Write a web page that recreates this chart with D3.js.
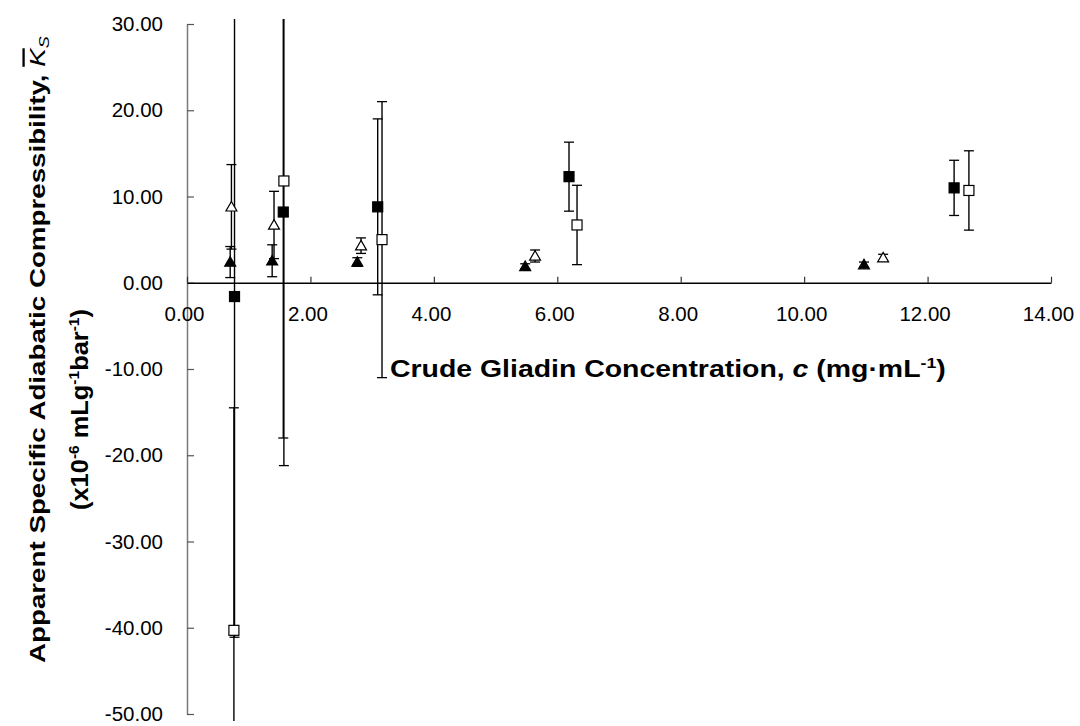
<!DOCTYPE html>
<html>
<head>
<meta charset="utf-8">
<script src="https://cdn.jsdelivr.net/npm/d3@7"></script>
<style>
  body { margin: 0; background: #fff; }
  text { font-family: "Liberation Sans", Arial, sans-serif; }
</style>
</head>
<body>
<div id="chart"></div>
<script>
// series: x position, value, error (+/-)
var filledTriX = [0.70, 1.38, 2.76, 5.48, 10.97]
var filledTriY = [2.4, 2.55, 2.4, 1.9, 2.1]
var filledTriErr = [1.8, 1.85, 0.5, 0.3, 0.3]

var openTriX = [0.72, 1.41, 2.82, 5.64, 11.28]
var openTriY = [8.8, 6.7, 4.3, 3.1, 2.9]
var openTriErr = [4.9, 3.9, 0.9, 0.7, 0.4]

var filledSqX = [0.77, 1.56, 3.09, 6.19, 12.43]
var filledSqY = [-1.6, 8.2, 8.8, 12.3, 11.0]
var filledSqErr = [39.5, 26.2, 10.2, 4.0, 3.2]

var openSqX = [0.76, 1.57, 3.16, 6.32, 12.67]
var openSqY = [-40.3, 11.8, 5.0, 6.7, 10.7]
var openSqErr = [25.8, 33.0, 16.0, 4.6, 4.6]

var xTicks = [0, 2, 4, 6, 8, 10, 12, 14]
var yTicks = [-50, -40, -30, -20, -10, 0, 10, 20, 30]

var width = 1080
var height = 726

var svg = d3.select('#chart').append('svg')
    .attr('width', width)
    .attr('height', height)

var x = d3.scaleLinear().domain([0, 14]).range([187, 1051])
var y = d3.scaleLinear().domain([-50, 30]).range([714, 24])

// plot area clip (error bars run off the top and bottom)
svg.append('clipPath').attr('id', 'plotClip')
    .append('rect')
    .attr('x', 0).attr('y', 19)
    .attr('width', width).attr('height', 702)

function zip(xs, ys, es) {
    return xs.map(function (d, i) { return { x: d, y: ys[i], e: es[i] } })
}

var series = [
    { name: 'filledTri', shape: 'tri', fill: '#000', data: zip(filledTriX, filledTriY, filledTriErr) },
    { name: 'openTri', shape: 'tri', fill: '#fff', data: zip(openTriX, openTriY, openTriErr) },
    { name: 'filledSq', shape: 'sq', fill: '#000', data: zip(filledSqX, filledSqY, filledSqErr) },
    { name: 'openSq', shape: 'sq', fill: '#fff', data: zip(openSqX, openSqY, openSqErr) }
]

// y axis
var yAxis = d3.axisLeft(y)
    .tickValues(yTicks)
    .tickFormat(function (d) { return d.toFixed(2) })
    .tickSizeInner(-7)
    .tickSizeOuter(0)
    .tickPadding(24)

var yG = svg.append('g')
    .attr('transform', 'translate(' + x(0) + ',0)')
    .call(yAxis)
yG.select('.domain').attr('stroke', '#7a7a7a').attr('stroke-width', 1.5)
yG.selectAll('.tick line').attr('stroke', '#555').attr('stroke-width', 1.2)
yG.selectAll('.tick text').attr('font-size', 20.5).attr('fill', '#000')

// x axis at y = 0
var xAxis = d3.axisBottom(x)
    .tickValues(xTicks)
    .tickFormat(function (d) { return d.toFixed(2) })
    .tickSizeInner(-6)
    .tickSizeOuter(0)
    .tickPadding(24)

var xG = svg.append('g')
    .attr('transform', 'translate(0,' + y(0) + ')')
    .call(xAxis)
xG.select('.domain').attr('stroke', '#000').attr('stroke-width', 1.5)
xG.selectAll('.tick line').attr('stroke', '#333').attr('stroke-width', 1.2)
xG.selectAll('.tick text').attr('font-size', 20.5).attr('fill', '#000').attr('dx', -3)

// error bars
var barG = svg.append('g').attr('clip-path', 'url(#plotClip)')
series.forEach(function (s) {
    var g = barG.append('g').attr('class', 'err-' + s.name)
    g.selectAll('line.stem')
        .data(s.data)
        .enter().append('line')
        .attr('class', 'stem')
        .attr('x1', function (d) { return x(d.x) })
        .attr('x2', function (d) { return x(d.x) })
        .attr('y1', function (d) { return y(d.y + d.e) })
        .attr('y2', function (d) { return y(d.y - d.e) })
        .attr('stroke', '#000')
        .attr('stroke-width', 1.4)
    var caps = []
    s.data.forEach(function (d) { caps.push({ x: d.x, v: d.y + d.e }); caps.push({ x: d.x, v: d.y - d.e }) })
    g.selectAll('line.cap')
        .data(caps)
        .enter().append('line')
        .attr('class', 'cap')
        .attr('x1', function (d) { return x(d.x) - 5 })
        .attr('x2', function (d) { return x(d.x) + 5 })
        .attr('y1', function (d) { return y(d.v) })
        .attr('y2', function (d) { return y(d.v) })
        .attr('stroke', '#000')
        .attr('stroke-width', 1.3)
})

// markers
var triangle = d3.symbol().type(d3.symbolTriangle).size(52)
series.forEach(function (s) {
    var g = svg.append('g').attr('class', 'pts-' + s.name)
    if (s.shape === 'sq') {
        g.selectAll('rect')
            .data(s.data)
            .enter().append('rect')
            .attr('x', function (d) { return x(d.x) - 5 })
            .attr('y', function (d) { return y(d.y) - 5 })
            .attr('width', 10)
            .attr('height', 10)
            .attr('fill', s.fill)
            .attr('stroke', '#000')
            .attr('stroke-width', 1.2)
    } else {
        g.selectAll('path')
            .data(s.data)
            .enter().append('path')
            .attr('d', triangle)
            .attr('transform', function (d) { return 'translate(' + x(d.x) + ',' + (y(d.y) + 1) + ')' })
            .attr('fill', s.fill)
            .attr('stroke', '#000')
            .attr('stroke-width', 1.2)
    }
})

// the original titles are set a bit wider than Arial Bold,
// so widen the glyphs along the text direction to the measured length
function stretch(t, tx, ty, angle, len) {
    var natural = t.node().getComputedTextLength()
    t.attr('transform', 'translate(' + tx + ',' + ty + ') rotate(' + angle + ') scale(' + (len / natural) + ',1)')
}

// x axis title
var xt = svg.append('text')
    .attr('font-size', 24)
    .attr('font-weight', 'bold')
    .attr('fill', '#000')
xt.append('tspan').text('Crude Gliadin Concentration, ')
xt.append('tspan').attr('font-style', 'italic').text('c')
xt.append('tspan').text(' (mg\u00b7mL')
xt.append('tspan').attr('font-size', 15).attr('dy', -9).text('-1')
xt.append('tspan').attr('dy', 9).text(')')
stretch(xt, 390, 377, 0, 556)

// y axis title, two lines
var yt1 = svg.append('text')
    .attr('font-size', 23)
    .attr('font-weight', 'bold')
    .attr('fill', '#000')
yt1.append('tspan').text('Apparent Specific Adiabatic Compressibility, ')
yt1.append('tspan')
    .attr('font-weight', 'normal')
    .attr('font-style', 'italic')
    .style('text-decoration', 'overline')
    .text('K')
yt1.append('tspan')
    .attr('font-weight', 'normal')
    .attr('font-style', 'italic')
    .attr('font-size', 15)
    .attr('dy', 4)
    .text('S')
stretch(yt1, 45, 663, -90, 627)

var yt2 = svg.append('text')
    .attr('font-size', 23)
    .attr('font-weight', 'bold')
    .attr('fill', '#000')
yt2.append('tspan').text('(x10')
yt2.append('tspan').attr('font-size', 14).attr('dy', -9).text('-6')
yt2.append('tspan').attr('dy', 9).text(' mLg')
yt2.append('tspan').attr('font-size', 14).attr('dy', -9).text('-1')
yt2.append('tspan').attr('dy', 9).text('bar')
yt2.append('tspan').attr('font-size', 14).attr('dy', -9).text('-1')
yt2.append('tspan').attr('dy', 9).text(')')
stretch(yt2, 88, 510, -90, 201)
</script>
</body>
</html>
